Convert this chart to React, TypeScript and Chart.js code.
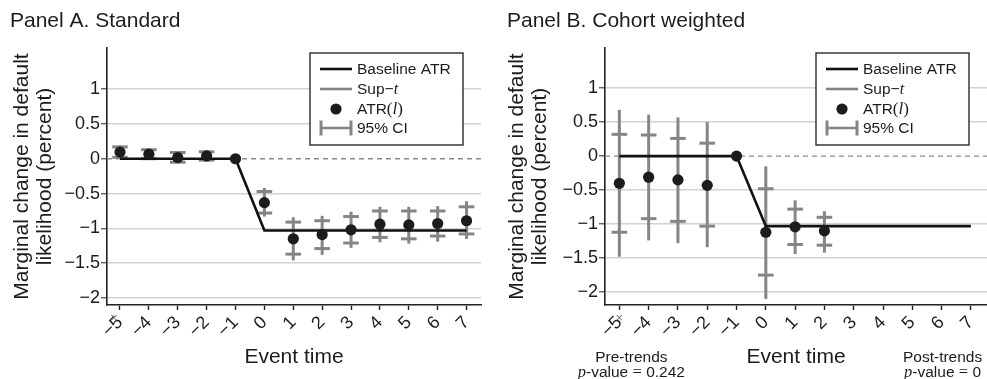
import React, { useEffect, useRef } from 'react';
import { Chart, registerables } from 'chart.js';

Chart.register(...registerables);

// ---------- data ----------
const eventTimes = [-5, -4, -3, -2, -1, 0, 1, 2, 3, 4, 5, 6, 7];
const yTickValues = [-2, -1.5, -1, -0.5, 0, 0.5, 1];

// Panel A. Standard
const aTimes = [-5, -4, -3, -2, -1, 0, 1, 2, 3, 4, 5, 6, 7];
const aAtr = [0.095, 0.066, 0.017, 0.04, 0, -0.63, -1.15, -1.09, -1.02, -0.94, -0.95, -0.93, -0.89];
const aCiLow = [0.02, 0.0, -0.05, -0.02, null, -0.78, -1.37, -1.29, -1.21, -1.13, -1.15, -1.11, -1.08];
const aCiHigh = [0.17, 0.13, 0.09, 0.1, null, -0.47, -0.91, -0.89, -0.83, -0.75, -0.75, -0.75, -0.69];
const aSupLow = [0.0, -0.01, -0.06, -0.03, null, -0.83, -1.46, -1.38, -1.28, -1.2, -1.22, -1.19, -1.15];
const aSupHigh = [0.19, 0.14, 0.1, 0.11, null, -0.42, -0.84, -0.82, -0.76, -0.69, -0.69, -0.68, -0.61];
const aBaseline = [0, 0, 0, 0, 0, -1.03, -1.03, -1.03, -1.03, -1.03, -1.03, -1.03, -1.03];

// Panel B. Cohort weighted
const bTimes = [-5, -4, -3, -2, -1, 0, 1, 2];
const bAtr = [-0.4, -0.31, -0.35, -0.43, 0, -1.12, -1.04, -1.1];
const bCiLow = [-1.12, -0.92, -0.96, -1.03, null, -1.75, -1.3, -1.31];
const bCiHigh = [0.32, 0.31, 0.26, 0.19, null, -0.48, -0.78, -0.9];
const bSupLow = [-1.48, -1.24, -1.28, -1.34, null, -2.1, -1.44, -1.42];
const bSupHigh = [0.68, 0.61, 0.57, 0.5, null, -0.15, -0.65, -0.81];
const bBaseline = [0, 0, 0, 0, 0, -1.03, -1.03, -1.03, -1.03, -1.03, -1.03, -1.03, -1.03];

const panelATitle = 'Panel A. Standard';
const panelBTitle = 'Panel B. Cohort weighted';
const yTitle = ['Marginal change in default', 'likelihood (percent)'];
const xTitle = 'Event time';
const preTrendsP = '0.242';
const postTrendsP = '0';

// ---------- style ----------
const SANS = "'Liberation Sans', Arial, Helvetica, sans-serif";
const SERIF = "'Liberation Serif', 'DejaVu Serif', serif";
const INK = '#1c1c1c';
const GRAY = '#858585';
const GRID = '#d2d2d2';
const H = 379;

Chart.defaults.font.family = SANS;

const fmt = (v: number) => (v < 0 ? '\u2212' + String(Math.abs(v)) : String(v));

type Run = { text: string; font: string };

function drawRuns(ctx: CanvasRenderingContext2D, runs: Run[], x: number, y: number, align: 'left' | 'center') {
  let total = 0;
  for (const r of runs) {
    ctx.font = r.font;
    total += ctx.measureText(r.text).width;
  }
  let cx = align === 'center' ? x - total / 2 : x;
  ctx.textAlign = 'left';
  for (const r of runs) {
    ctx.font = r.font;
    ctx.fillText(r.text, cx, y);
    cx += ctx.measureText(r.text).width;
  }
}

type Spec = {
  title: string;
  titleX: number;
  times: number[];
  atr: number[];
  ciLow: (number | null)[];
  ciHigh: (number | null)[];
  supLow: (number | null)[];
  supHigh: (number | null)[];
  baseline: number[];
  xMin: number;
  xMax: number;
  yMin: number;
  yMax: number;
  yAxisWidth: number;
  yTitlePad: number;
  rightPad: number;
  crossOffset: number;
  footer: boolean;
};

function makeConfig(p: Spec): any {
  const datasets: any[] = [];
  datasets.push({
    label: 'ATR(l)',
    data: p.times.map((t, i) => ({ x: t, y: p.atr[i] })),
    showLine: false,
    pointRadius: 5.6,
    pointBackgroundColor: INK,
    pointBorderWidth: 0,
  });
  datasets.push({
    label: 'Baseline ATR',
    data: eventTimes.map((t, i) => ({ x: t, y: p.baseline[i] })),
    showLine: true,
    borderColor: '#111',
    borderWidth: 2.6,
    pointRadius: 0,
  });
  const caps: any[] = [];
  p.times.forEach((t, i) => {
    if (p.ciLow[i] != null) {
      caps.push({ x: t, y: p.ciLow[i] });
      caps.push({ x: t, y: p.ciHigh[i] });
    }
  });
  datasets.push({
    label: '95% CI',
    data: caps,
    showLine: false,
    pointStyle: 'line',
    pointRadius: 7.8,
    pointBorderWidth: 3,
    pointBorderColor: GRAY,
    pointBackgroundColor: GRAY,
  });
  p.times.forEach((t, i) => {
    if (p.supLow[i] != null) {
      datasets.push({
        label: 'Sup-t',
        data: [
          { x: t, y: p.supLow[i] },
          { x: t, y: p.supHigh[i] },
        ],
        showLine: true,
        borderColor: GRAY,
        borderWidth: 3,
        pointRadius: 0,
      });
    }
  });

  const decor = {
    id: 'decor',
    beforeDatasetsDraw(chart: any) {
      const { ctx, chartArea, scales } = chart;
      const y0 = scales.y.getPixelForValue(0);
      ctx.save();
      ctx.strokeStyle = '#8a8a8a';
      ctx.lineWidth = 1.3;
      ctx.setLineDash([5, 4]);
      ctx.beginPath();
      ctx.moveTo(chartArea.left, y0);
      ctx.lineTo(chartArea.right, y0);
      ctx.stroke();
      ctx.restore();
    },
    afterDraw(chart: any) {
      const { ctx, chartArea, scales } = chart;
      ctx.save();
      // panel title
      ctx.fillStyle = INK;
      ctx.textBaseline = 'alphabetic';
      ctx.textAlign = 'left';
      ctx.font = `21px ${SANS}`;
      ctx.fillText(p.title, p.titleX, 26.5);

      // legend box
      const w = 153;
      const h = 92;
      const bx = chartArea.right - 18 - w;
      const by = chartArea.top + 5;
      ctx.fillStyle = '#fff';
      ctx.fillRect(bx, by, w, h);
      ctx.strokeStyle = '#2a2a2a';
      ctx.lineWidth = 1.4;
      ctx.strokeRect(bx, by, w, h);
      const lx0 = bx + 10;
      const lx1 = bx + 42;
      const tx = bx + 47;
      const rows = [by + 16, by + 36, by + 56, by + 75];
      ctx.lineWidth = 2.6;
      ctx.strokeStyle = '#111';
      ctx.beginPath();
      ctx.moveTo(lx0, rows[0]);
      ctx.lineTo(lx1, rows[0]);
      ctx.stroke();
      ctx.strokeStyle = GRAY;
      ctx.lineWidth = 2.6;
      ctx.beginPath();
      ctx.moveTo(lx0, rows[1]);
      ctx.lineTo(lx1, rows[1]);
      ctx.stroke();
      ctx.fillStyle = INK;
      ctx.beginPath();
      ctx.arc((lx0 + lx1) / 2, rows[2], 5.6, 0, Math.PI * 2);
      ctx.fill();
      ctx.strokeStyle = GRAY;
      ctx.lineWidth = 3;
      ctx.beginPath();
      ctx.moveTo(lx0 + 1, rows[3] - 7.5);
      ctx.lineTo(lx0 + 1, rows[3] + 7.5);
      ctx.moveTo(lx1 - 1, rows[3] - 7.5);
      ctx.lineTo(lx1 - 1, rows[3] + 7.5);
      ctx.stroke();
      ctx.lineWidth = 2.6;
      ctx.beginPath();
      ctx.moveTo(lx0, rows[3]);
      ctx.lineTo(lx1, rows[3]);
      ctx.stroke();

      ctx.fillStyle = INK;
      ctx.textBaseline = 'middle';
      const lf = `15.5px ${SANS}`;
      drawRuns(ctx, [{ text: 'Baseline ATR', font: lf }], tx, rows[0] + 1, 'left');
      drawRuns(ctx, [{ text: 'Sup\u2212', font: lf }, { text: 't', font: `italic 16px ${SERIF}` }], tx, rows[1] + 1, 'left');
      drawRuns(
        ctx,
        [
          { text: 'ATR', font: lf },
          { text: '(', font: `17px ${SERIF}` },
          { text: 'l', font: `italic 17px ${SERIF}` },
          { text: ')', font: `17px ${SERIF}` },
        ],
        tx,
        rows[2] + 1,
        'left'
      );
      drawRuns(ctx, [{ text: '95% CI', font: lf }], tx, rows[3] + 1, 'left');

      // small cross near the -5 tick
      const cx = scales.x.getPixelForValue(-5) + p.crossOffset;
      ctx.fillStyle = '#777';
      ctx.font = `13px ${SANS}`;
      ctx.textAlign = 'center';
      ctx.textBaseline = 'middle';
      ctx.fillText('\u00d7', cx, chartArea.bottom + 13);

      if (p.footer) {
        ctx.fillStyle = INK;
        ctx.textBaseline = 'alphabetic';
        const ff = `15.5px ${SANS}`;
        const pf = `italic 16.5px ${SERIF}`;
        const preX = scales.x.getPixelForValue(-5) + 12;
        drawRuns(ctx, [{ text: 'Pre-trends', font: ff }], preX, 361.5, 'center');
        drawRuns(
          ctx,
          [
            { text: 'p', font: pf },
            { text: '-value ', font: ff },
            { text: '=', font: `16.5px ${SERIF}` },
            { text: ' ' + preTrendsP, font: ff },
          ],
          preX,
          376.5,
          'center'
        );
        const postX = scales.x.getPixelForValue(6) + 1;
        drawRuns(ctx, [{ text: 'Post-trends', font: ff }], postX, 361.5, 'center');
        drawRuns(
          ctx,
          [
            { text: 'p', font: pf },
            { text: '-value ', font: ff },
            { text: '=', font: `16.5px ${SERIF}` },
            { text: ' ' + postTrendsP, font: ff },
          ],
          postX,
          376.5,
          'center'
        );
      }
      ctx.restore();
    },
  };

  return {
    type: 'scatter',
    data: { datasets },
    plugins: [decor],
    options: {
      animation: false,
      responsive: false,
      events: [],
      layout: { autoPadding: false, padding: { top: 48, right: p.rightPad, left: 0, bottom: 0 } },
      plugins: { legend: { display: false }, tooltip: { enabled: false }, title: { display: false } },
      scales: {
        x: {
          type: 'linear',
          position: 'bottom',
          min: p.xMin,
          max: p.xMax,
          afterBuildTicks: (s: any) => {
            s.ticks = eventTimes.map((v) => ({ value: v }));
          },
          afterFit: (s: any) => {
            s.height = 74;
            s.paddingRight = 0;
            s.paddingLeft = 0;
          },
          ticks: {
            autoSkip: false,
            minRotation: 45,
            maxRotation: 45,
            padding: 2,
            color: INK,
            font: { size: 18 },
            callback: (v: number) => fmt(v),
          },
          grid: { drawOnChartArea: false, drawTicks: true, tickLength: 5, tickColor: '#222', tickWidth: 1.4 },
          border: { display: true, color: '#222', width: 1.6 },
          title: { display: true, text: xTitle, color: INK, font: { size: 21 }, padding: { top: 0, bottom: 9 } },
        },
        y: {
          type: 'linear',
          min: p.yMin,
          max: p.yMax,
          afterBuildTicks: (s: any) => {
            s.ticks = yTickValues.map((v) => ({ value: v }));
          },
          afterFit: (s: any) => {
            s.width = p.yAxisWidth;
            s.paddingTop = 0;
            s.paddingBottom = 0;
          },
          ticks: {
            padding: 1,
            color: INK,
            font: { size: 18 },
            callback: (v: number) => fmt(v),
          },
          grid: {
            color: (c: any) => (c.tick && c.tick.value === 0 ? 'rgba(0,0,0,0)' : GRID),
            lineWidth: 1.5,
            drawTicks: true,
            tickLength: 6,
            tickColor: '#555',
            tickWidth: 1.3,
          },
          border: { display: true, color: '#222', width: 1.6 },
          title: {
            display: true,
            text: yTitle,
            color: INK,
            font: { size: 21, lineHeight: 1.1 },
            padding: { top: p.yTitlePad, bottom: 0 },
          },
        },
      },
    },
  };
}

const specA: Spec = {
  title: panelATitle,
  titleX: 10,
  times: aTimes,
  atr: aAtr,
  ciLow: aCiLow,
  ciHigh: aCiHigh,
  supLow: aSupLow,
  supHigh: aSupHigh,
  baseline: aBaseline,
  xMin: -5.45,
  xMax: 7.5,
  yMin: -2.1,
  yMax: 1.59,
  yAxisWidth: 107,
  yTitlePad: 10.5,
  rightPad: 9,
  crossOffset: -6,
  footer: false,
};

const specB: Spec = {
  title: panelBTitle,
  titleX: 17,
  times: bTimes,
  atr: bAtr,
  ciLow: bCiLow,
  ciHigh: bCiHigh,
  supLow: bSupLow,
  supHigh: bSupHigh,
  baseline: bBaseline,
  xMin: -5.49,
  xMax: 7.55,
  yMin: -2.19,
  yMax: 1.59,
  yAxisWidth: 115,
  yTitlePad: 15.2,
  rightPad: 0,
  crossOffset: 0,
  footer: true,
};

function Panel({ spec, left, width }: { spec: Spec; left: number; width: number }) {
  const ref = useRef<HTMLCanvasElement>(null);
  useEffect(() => {
    const chart = new Chart(ref.current as HTMLCanvasElement, makeConfig(spec));
    return () => chart.destroy();
  }, [spec]);
  return (
    <div style={{ position: 'absolute', left, top: 0, width, height: H, overflow: 'hidden' }}>
      <canvas ref={ref} width={width} height={H} style={{ display: 'block', width, height: H }} />
    </div>
  );
}

export default function App() {
  return (
    <div style={{ position: 'absolute', left: 0, top: 0, width: 987, height: H, background: '#fff', overflow: 'hidden' }}>
      <Panel spec={specA} left={0} width={490} />
      <Panel spec={specB} left={490} width={497} />
    </div>
  );
}
